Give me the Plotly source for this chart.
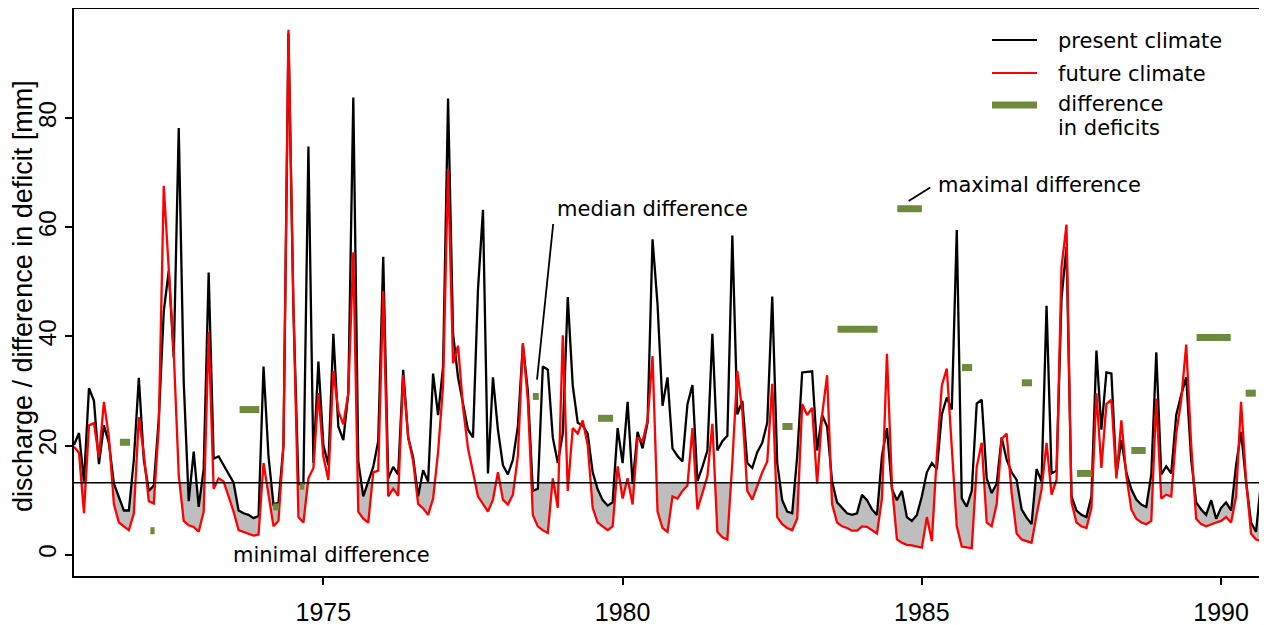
import plotly.graph_objects as go

# ---------------- data ----------------
START_YEAR = 1970 + 10/12          # first month (Nov 1970), monthly steps
THRESHOLD = 13.2

present = [20.1, 22.3, 13.4, 30.5, 28.2, 16.6, 23.7, 20.5, 13.0, 10.7, 8.1, 8.1,
           17.4, 32.4, 17.4, 11.7, 12.7, 24.9, 44.6, 52.0, 36.1, 78.2, 31.7, 9.8,
           18.9, 8.75, 15.7, 51.7, 17.6, 18.0, 16.4, 14.7, 13.2, 8.1, 7.6, 7.3,
           6.7, 7.1, 34.5, 18.0, 9.2, 9.6, 20.0, 95.5, 45.0, 12.9, 13.0, 74.8,
           16.8, 35.4, 20.1, 16.4, 40.5, 23.5, 21.0, 29.6, 83.8, 17.1, 10.7, 13.4,
           16.1, 20.8, 54.6, 14.0, 16.1, 14.7, 33.9, 21.5, 17.8, 10.7, 15.5, 13.4,
           33.2, 25.6, 34.4, 83.6, 40.5, 32.5, 27.6, 22.9, 21.5, 48.6, 63.2, 14.9,
           32.5, 22.9, 16.4, 14.7, 17.4, 23.5, 38.5, 30.0, 11.7, 12.1, 34.5, 33.9,
           21.5, 16.8, 22.2, 47.2, 31.0, 24.2, 23.7, 22.2, 15.1, 12.0, 10.0, 9.0,
           9.6, 23.2, 16.8, 28.0, 13.0, 22.5, 19.5, 24.2, 57.8, 45.9, 27.3, 32.5,
           19.5, 18.1, 17.1, 27.6, 31.1, 13.5, 16.1, 19.1, 40.5, 19.1, 20.8, 21.8,
           58.5, 25.7, 28.2, 16.8, 15.9, 18.8, 20.5, 24.2, 47.3, 16.8, 10.0, 7.9,
           7.6, 18.0, 33.4, 33.5, 33.6, 19.1, 25.6, 23.5, 13.4, 9.6, 8.6, 7.6,
           7.3, 7.6, 11.0, 10.0, 8.3, 7.3, 18.1, 23.2, 12.0, 10.0, 11.7, 6.9,
           6.2, 7.3, 10.7, 15.1, 16.8, 15.7, 25.7, 28.8, 26.6, 59.5, 10.3, 8.8,
           11.7, 27.7, 28.4, 14.0, 11.3, 13.0, 21.5, 17.4, 15.1, 13.7, 8.3, 6.8,
           5.6, 15.7, 13.4, 45.6, 14.9, 15.4, 47.0, 56.4, 10.7, 8.1, 7.3, 6.9,
           10.7, 37.4, 22.9, 33.4, 33.2, 14.7, 21.0, 15.1, 12.0, 10.1, 9.2, 8.75,
           14.7, 37.1, 14.7, 16.2, 14.9, 25.6, 29.3, 32.5, 17.4, 9.6, 8.3, 7.3,
           10.0, 6.6, 8.6, 9.6, 8.1, 16.4, 22.5, 13.4, 5.9, 4.2, 13.4, 10.3]

future = [19.8, 18.7, 7.6, 23.7, 24.1, 17.8, 28.0, 21.5, 9.3, 5.9, 5.2, 4.5,
          7.6, 25.2, 18.5, 9.8, 9.4, 23.5, 67.6, 53.4, 37.1, 14.6, 6.2, 5.4,
          5.1, 4.2, 7.9, 40.8, 12.1, 14.0, 13.4, 10.7, 7.9, 4.5, 4.2, 3.9,
          3.5, 3.7, 16.8, 11.0, 5.2, 6.2, 20.1, 96.2, 45.0, 6.9, 5.9, 14.0,
          15.9, 29.6, 18.0, 13.7, 33.7, 26.3, 23.9, 29.6, 55.4, 7.9, 6.6, 5.9,
          15.1, 15.4, 48.3, 10.7, 12.1, 10.8, 32.9, 21.5, 17.1, 9.3, 8.5, 7.3,
          10.3, 18.8, 31.0, 70.7, 35.1, 38.3, 27.0, 19.5, 15.4, 10.7, 9.3, 7.9,
          10.1, 15.1, 10.1, 9.2, 11.0, 18.1, 38.8, 28.3, 7.3, 5.2, 4.5, 4.0,
          14.0, 8.6, 40.2, 11.7, 23.2, 22.2, 24.6, 20.1, 8.6, 5.9, 5.2, 4.5,
          5.2, 16.2, 10.3, 14.0, 9.2, 21.5, 20.8, 24.6, 36.4, 7.9, 4.9, 4.2,
          10.7, 10.3, 11.7, 12.7, 23.2, 8.3, 11.3, 14.4, 24.0, 4.2, 3.2, 2.8,
          17.0, 33.7, 26.3, 11.7, 10.1, 12.7, 15.1, 17.1, 31.3, 6.9, 5.6, 4.9,
          4.5, 6.6, 27.6, 25.6, 26.9, 13.0, 25.6, 32.9, 9.3, 5.9, 5.2, 4.9,
          4.4, 4.4, 5.2, 5.1, 4.5, 3.9, 10.3, 36.8, 12.7, 2.8, 2.2, 1.8,
          1.7, 1.5, 1.3, 6.9, 2.5, 18.1, 31.0, 34.1, 18.5, 5.2, 1.5, 1.3,
          1.2, 16.1, 20.5, 5.9, 5.2, 9.3, 21.2, 22.2, 11.3, 3.9, 2.8, 2.5,
          2.2, 7.3, 12.0, 20.5, 11.0, 13.7, 52.7, 60.5, 9.6, 5.9, 5.2, 4.9,
          8.6, 29.6, 15.9, 27.6, 28.4, 14.0, 24.6, 14.4, 8.3, 6.6, 5.9, 5.6,
          6.2, 28.6, 10.3, 11.0, 10.7, 22.2, 28.3, 38.5, 20.1, 6.6, 5.6, 5.2,
          5.6, 5.9, 6.2, 6.9, 5.9, 10.7, 28.0, 13.7, 3.9, 2.8, 2.5, 2.5]

# difference in deficits per deficit period (start, end, value)
diff_start = [1971.60, 1972.11, 1973.60, 1974.16, 1974.61, 1978.50, 1979.59, 1982.67,
              1983.59, 1984.59, 1985.67, 1986.67, 1987.59, 1988.50, 1989.59, 1990.41]
diff_end = [1971.77, 1972.18, 1973.93, 1974.26, 1974.68, 1978.60, 1979.84, 1982.84,
            1984.26, 1985.00, 1985.84, 1986.84, 1987.84, 1988.74, 1990.16, 1990.58]
diff_value = [20.6, 4.4, 26.6, 8.75, 12.55, 29.0, 25.0, 23.5,
              41.3, 63.4, 34.3, 31.5, 14.9, 19.1, 39.8, 29.6]

x_tickvals = [1975, 1980, 1985, 1990]
y_tickvals = [0, 20, 40, 60, 80]

# ---------------- derived ----------------
t = [START_YEAR + k / 12 for k in range(len(present))]


def clip_below(xs, ys, thr):
    ox, oy = [], []
    for k in range(len(xs)):
        if k > 0:
            y0, y1 = ys[k - 1], ys[k]
            if (y0 - thr) * (y1 - thr) < 0:
                f = (thr - y0) / (y1 - y0)
                ox.append(xs[k - 1] + f * (xs[k] - xs[k - 1]))
                oy.append(thr)
        ox.append(xs[k])
        oy.append(min(ys[k], thr))
    return ox, oy


bx, by = clip_below(t, present, THRESHOLD)
rx, ry = clip_below(t, future, THRESHOLD)

gx, gy = [], []
for s, e, v in zip(diff_start, diff_end, diff_value):
    gx += [s, e, None]
    gy += [v, v, None]

BLACK = "#000000"
RED = "#FF0000"
GREEN = "#6E8B3D"
GRAY = "#BEBEBE"

fig = go.Figure()
fig.add_trace(go.Scatter(x=bx, y=by, mode="lines", line=dict(width=0, color=GRAY),
                         showlegend=False, hoverinfo="skip"))
fig.add_trace(go.Scatter(x=rx, y=ry, mode="lines", line=dict(width=0, color=GRAY),
                         fill="tonexty", fillcolor=GRAY, showlegend=False, hoverinfo="skip"))
fig.add_hline(y=THRESHOLD, line=dict(color=BLACK, width=1.6))
fig.add_trace(go.Scatter(x=t, y=present, mode="lines", name="present climate",
                         line=dict(color=BLACK, width=2.3), showlegend=False))
fig.add_trace(go.Scatter(x=t, y=future, mode="lines", name="future climate",
                         line=dict(color=RED, width=2.3), showlegend=False))
fig.add_trace(go.Scatter(x=gx, y=gy, mode="lines", name="difference in deficits",
                         line=dict(color=GREEN, width=7), showlegend=False))

# The page body has an 8px margin, so the figure is 8px smaller than the window
# and all geometry below is expressed in window pixels.
OFF = 8
WIN_W, WIN_H = 1267, 625
W, H = WIN_W - OFF, WIN_H - OFF
S_L, S_R, S_T, S_B = 74, 1266, 9, 576          # plot area in window pixels
L, R, T, B = S_L - OFF, WIN_W - S_R, S_T - OFF, WIN_H - S_B


def px(xs):
    return (xs - S_L) / (S_R - S_L)


def py(ys):
    return (S_B - ys) / (S_B - S_T)


TXT = dict(family="DejaVu Sans", size=21, color=BLACK)

annotations = [
    dict(text="minimal difference", x=1973.45, y=0.0, xref="x", yref="y",
         xanchor="left", yanchor="middle", showarrow=False, font=TXT),
    dict(text="median difference", x=1978.87, y=63.4, xref="x", yref="y",
         xanchor="left", yanchor="middle", showarrow=False, font=TXT),
    dict(text="maximal difference", x=1985.24, y=67.8, xref="x", yref="y",
         xanchor="left", yanchor="middle", showarrow=False, font=TXT),
    # legend texts
    dict(text="present climate", x=px(1056), y=py(41), xref="paper", yref="paper",
         xanchor="left", yanchor="middle", showarrow=False, font=TXT),
    dict(text="future climate", x=px(1056), y=py(74), xref="paper", yref="paper",
         xanchor="left", yanchor="middle", showarrow=False, font=TXT),
    dict(text="difference", x=px(1056), y=py(104), xref="paper", yref="paper",
         xanchor="left", yanchor="middle", showarrow=False, font=TXT),
    dict(text="in deficits", x=px(1056), y=py(128), xref="paper", yref="paper",
         xanchor="left", yanchor="middle", showarrow=False, font=TXT),
    # y-axis title
    dict(text="discharge / difference in deficit [mm]", x=px(23), y=py(296),
         xref="paper", yref="paper", xanchor="center", yanchor="middle",
         textangle=-90, showarrow=False,
         font=dict(family="Liberation Sans, Arial", size=27, color=BLACK)),
]

shapes = [
    # leader lines
    dict(type="line", xref="x", yref="y", x0=1972.27, y0=3.4, x1=1973.35, y1=-0.55,
         line=dict(color=BLACK, width=1.8)),
    dict(type="line", xref="x", yref="y", x0=1978.84, y0=60.6, x1=1978.57, y1=32.1,
         line=dict(color=BLACK, width=1.8)),
    dict(type="line", xref="x", yref="y", x0=1984.78, y0=64.8, x1=1985.14, y1=67.3,
         line=dict(color=BLACK, width=1.8)),
    # legend samples
    dict(type="line", xref="paper", yref="paper", x0=px(992), y0=py(40), x1=px(1037), y1=py(40),
         line=dict(color=BLACK, width=2)),
    dict(type="line", xref="paper", yref="paper", x0=px(992), y0=py(73), x1=px(1037), y1=py(73),
         line=dict(color=RED, width=2)),
    dict(type="line", xref="paper", yref="paper", x0=px(992), y0=py(105), x1=px(1037), y1=py(105),
         line=dict(color=GREEN, width=7)),
]

XTICKFONT = dict(family="Liberation Sans, Arial", size=25, color=BLACK)
YTICKFONT = dict(family="Liberation Sans, Arial", size=24, color=BLACK)

fig.update_layout(
    width=W, height=H,
    margin=dict(l=L, r=R, t=T, b=B, pad=0, autoexpand=False),
    plot_bgcolor="white", paper_bgcolor="white",
    showlegend=False,
    annotations=annotations,
    shapes=shapes,
    xaxis=dict(range=[START_YEAR, START_YEAR + (len(present) - 1) / 12],
               tickvals=x_tickvals, ticktext=[str(v) for v in x_tickvals],
               ticks="outside", ticklen=7, tickwidth=1.5, tickcolor=BLACK,
               showline=True, linecolor=BLACK, linewidth=1.8, mirror=True,
               showgrid=False, zeroline=False, tickfont=XTICKFONT,
               ticklabelstandoff=6, automargin=False),
    yaxis=dict(range=[-3.9, 100.0], tickvals=y_tickvals,
               ticks="outside", ticklen=7, tickwidth=1.5, tickcolor=BLACK,
               showline=True, linecolor=BLACK, linewidth=1.8, mirror=True,
               showgrid=False, zeroline=False, tickfont=YTICKFONT, tickangle=-90,
               ticklabelstandoff=0, automargin=False),
)

fig.write_html("out.html")
